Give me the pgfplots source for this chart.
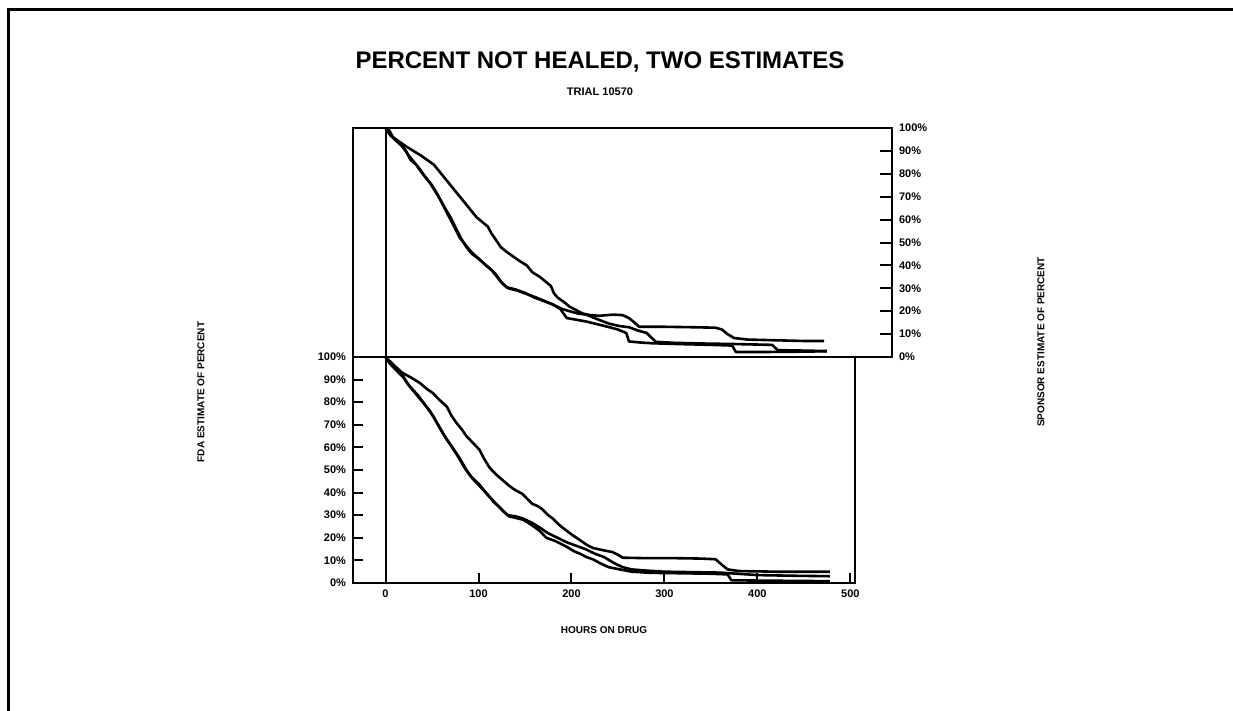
\documentclass[border=0pt]{standalone}
\usepackage{pgfplots}
\pgfplotsset{compat=1.18}
\usepackage{fontspec}
\setmainfont{Liberation Sans}
\begin{document}
\begin{tikzpicture}
\useasboundingbox (0,0) rectangle (616.5pt,-355.5pt);
\draw[line width=1.5pt] (4pt,-355.5pt) -- (4pt,-5pt) -- (616.5pt,-5pt);
\node[font=\bfseries\fontsize{12}{14}\selectfont] at (300pt,-31pt) {PERCENT NOT HEALED, TWO ESTIMATES};
\node[font=\bfseries\fontsize{5.5}{6}\selectfont] at (300pt,-46pt) {TRIAL 10570};
\node[rotate=90,font=\bfseries\fontsize{5}{6}\selectfont] at (100.5pt,-196pt) {FDA ESTIMATE OF PERCENT};
\node[rotate=90,font=\bfseries\fontsize{5}{6}\selectfont] at (520.5pt,-171pt) {SPONSOR ESTIMATE OF PERCENT};
\node[font=\bfseries\fontsize{5}{6}\selectfont] at (302pt,-315pt) {HOURS ON DRUG};
\pgfplotsset{
  every axis/.append style={
    scale only axis, axis line style={line width=1pt}, tick style={line width=1pt,black},
    tick align=inside, major tick length=5pt,
    ticklabel style={font=\bfseries\fontsize{5.5}{6}\selectfont},
    /pgf/number format/assume math mode=true,
    ymin=0, ymax=100, xmin=-35,
  },
  curve/.style={black, line width=1.3pt, line join=round, mark=none},
}
% ---------- top panel: sponsor estimate ----------
\begin{axis}[at={(176.5pt,-178.5pt)}, anchor=south west, width=269.5pt, height=114.5pt,
  xmax=545, xtick=\empty, ytick={0,10,...,100}, ytick pos=right, yticklabel pos=right,
  yticklabels={0\%,10\%,20\%,30\%,40\%,50\%,60\%,70\%,80\%,90\%,100\%},
  major tick length=6pt]
\addplot[black, line width=1pt] coordinates {(0,0) (0,100)};
\addplot[curve] coordinates {(0,100) (4,99) (8,96) (15,94) (22,92) (30,90) (38,88) (45,86) (52,84) (58,81) (64,78) (70,75) (76,72) (80,70) (86,67) (92,64) (98,61) (104,59) (110,57) (114,54) (119,51) (124,48) (130,46) (137,44) (144,42) (152,40) (158,37) (166,35) (172,33) (178,31) (181,28) (185,26) (192,24) (198,22) (205,20.5) (212,19) (220,18.3) (230,18) (245,18.5) (255,18.3) (262,17) (268,15) (273,13.2) (300,13.2) (330,13) (355,12.8) (362,12) (368,10) (375,8.3) (390,7.6) (420,7.3) (450,7) (472,7)};
\addplot[curve] coordinates {(0,100) (5,97) (10,95) (18,92) (25,88) (31,85) (37,82) (42,79) (48,76) (54,72) (60,68) (66,63) (70,60) (75,56) (80,52) (86,49) (92,46) (100,43) (108,40) (114,38) (119,36) (124,33) (130,30.5) (140,29.5) (150,28) (160,26) (170,24.5) (180,23) (188,21) (195,17) (205,16.3) (216,15.5) (228,14.3) (241,13) (250,12) (259,10.5) (262,6.8) (275,6.3) (287,6) (320,5.6) (350,5.3) (373,5) (377,2.2) (413,2.2) (440,2.3) (475,2.5)};
\addplot[curve] coordinates {(0,100) (5,97) (10,95) (16,93) (22,90) (27,86) (33,84) (38,81) (44,78) (50,75) (56,71) (61,67) (64,65) (70,61) (76,56) (81,52) (87,48) (93,45) (100,43) (107,40.5) (114,38) (120,35) (126,32) (132,30) (142,29) (152,27.5) (162,26) (172,24.3) (182,22.5) (190,21) (198,20) (207,19) (216,18.5) (228,16.5) (241,14.5) (252,13.5) (262,13) (272,11.5) (281,10.5) (286,8.5) (291,6.6) (310,6.2) (340,5.9) (370,5.7) (416,5.3) (422,3) (450,2.8) (475,2.6)};
\end{axis}
% ---------- bottom panel: FDA estimate ----------
\begin{axis}[at={(176.5pt,-291.5pt)}, anchor=south west, width=251pt, height=113pt,
  xmax=505, xtick={0,100,...,500}, xtick pos=bottom, ytick={0,10,...,100}, ytick pos=left,
  yticklabels={0\%,10\%,20\%,30\%,40\%,50\%,60\%,70\%,80\%,90\%,100\%}]
\addplot[black, line width=1pt] coordinates {(0,0) (0,100)};
\addplot[curve] coordinates {(0,100) (5,98) (10,96) (18,93) (27,91) (37,88.5) (44,86) (51,84) (58,81) (66,78) (71,74) (76,71) (82,68) (87,65) (94,62) (101,59) (106,55) (112,51) (119,48) (126,45.5) (133,43) (140,41) (147,39.5) (153,37) (158,35) (164,34) (169,32.5) (175,30) (180,28.5) (186,26) (192,24) (200,21.5) (209,19) (216,17) (223,15.5) (234,14.5) (244,13.7) (250,12.5) (255,11.2) (280,11) (310,11) (340,10.8) (355,10.5) (362,8) (368,6) (380,5.3) (420,5) (450,5) (478,5)};
\addplot[curve] coordinates {(0,100) (5,97) (12,94) (19,91) (26,87) (35,83) (44,78) (51,74) (58,69) (65,64) (72,60) (80,55) (87,50) (94,46) (101,43) (110,39) (119,35) (126,32) (133,29.5) (140,28.8) (148,28) (156,26) (166,23) (173,20) (183,18.5) (195,16) (203,14) (209,13) (216,11.5) (223,10.5) (232,8.5) (240,7) (252,6) (265,5) (285,4.5) (320,4.3) (350,4.1) (368,3.8) (372,1.2) (420,1) (478,0.8)};
\addplot[curve] coordinates {(0,100) (5,97) (12,94) (18,92) (24,88) (32,84) (40,80) (48,76) (55,71) (62,66) (70,61) (78,56) (85,51) (92,47) (100,44) (108,40) (116,36) (124,33) (131,30) (140,29.5) (148,28.5) (158,26.5) (166,24.5) (175,22) (185,20) (195,18) (205,16.5) (215,15) (225,13) (235,11.5) (245,9) (255,7) (265,6) (280,5.5) (300,5) (330,4.8) (360,4.6) (400,3.5) (440,3.2) (478,3)};
\end{axis}
\end{tikzpicture}
\end{document}
